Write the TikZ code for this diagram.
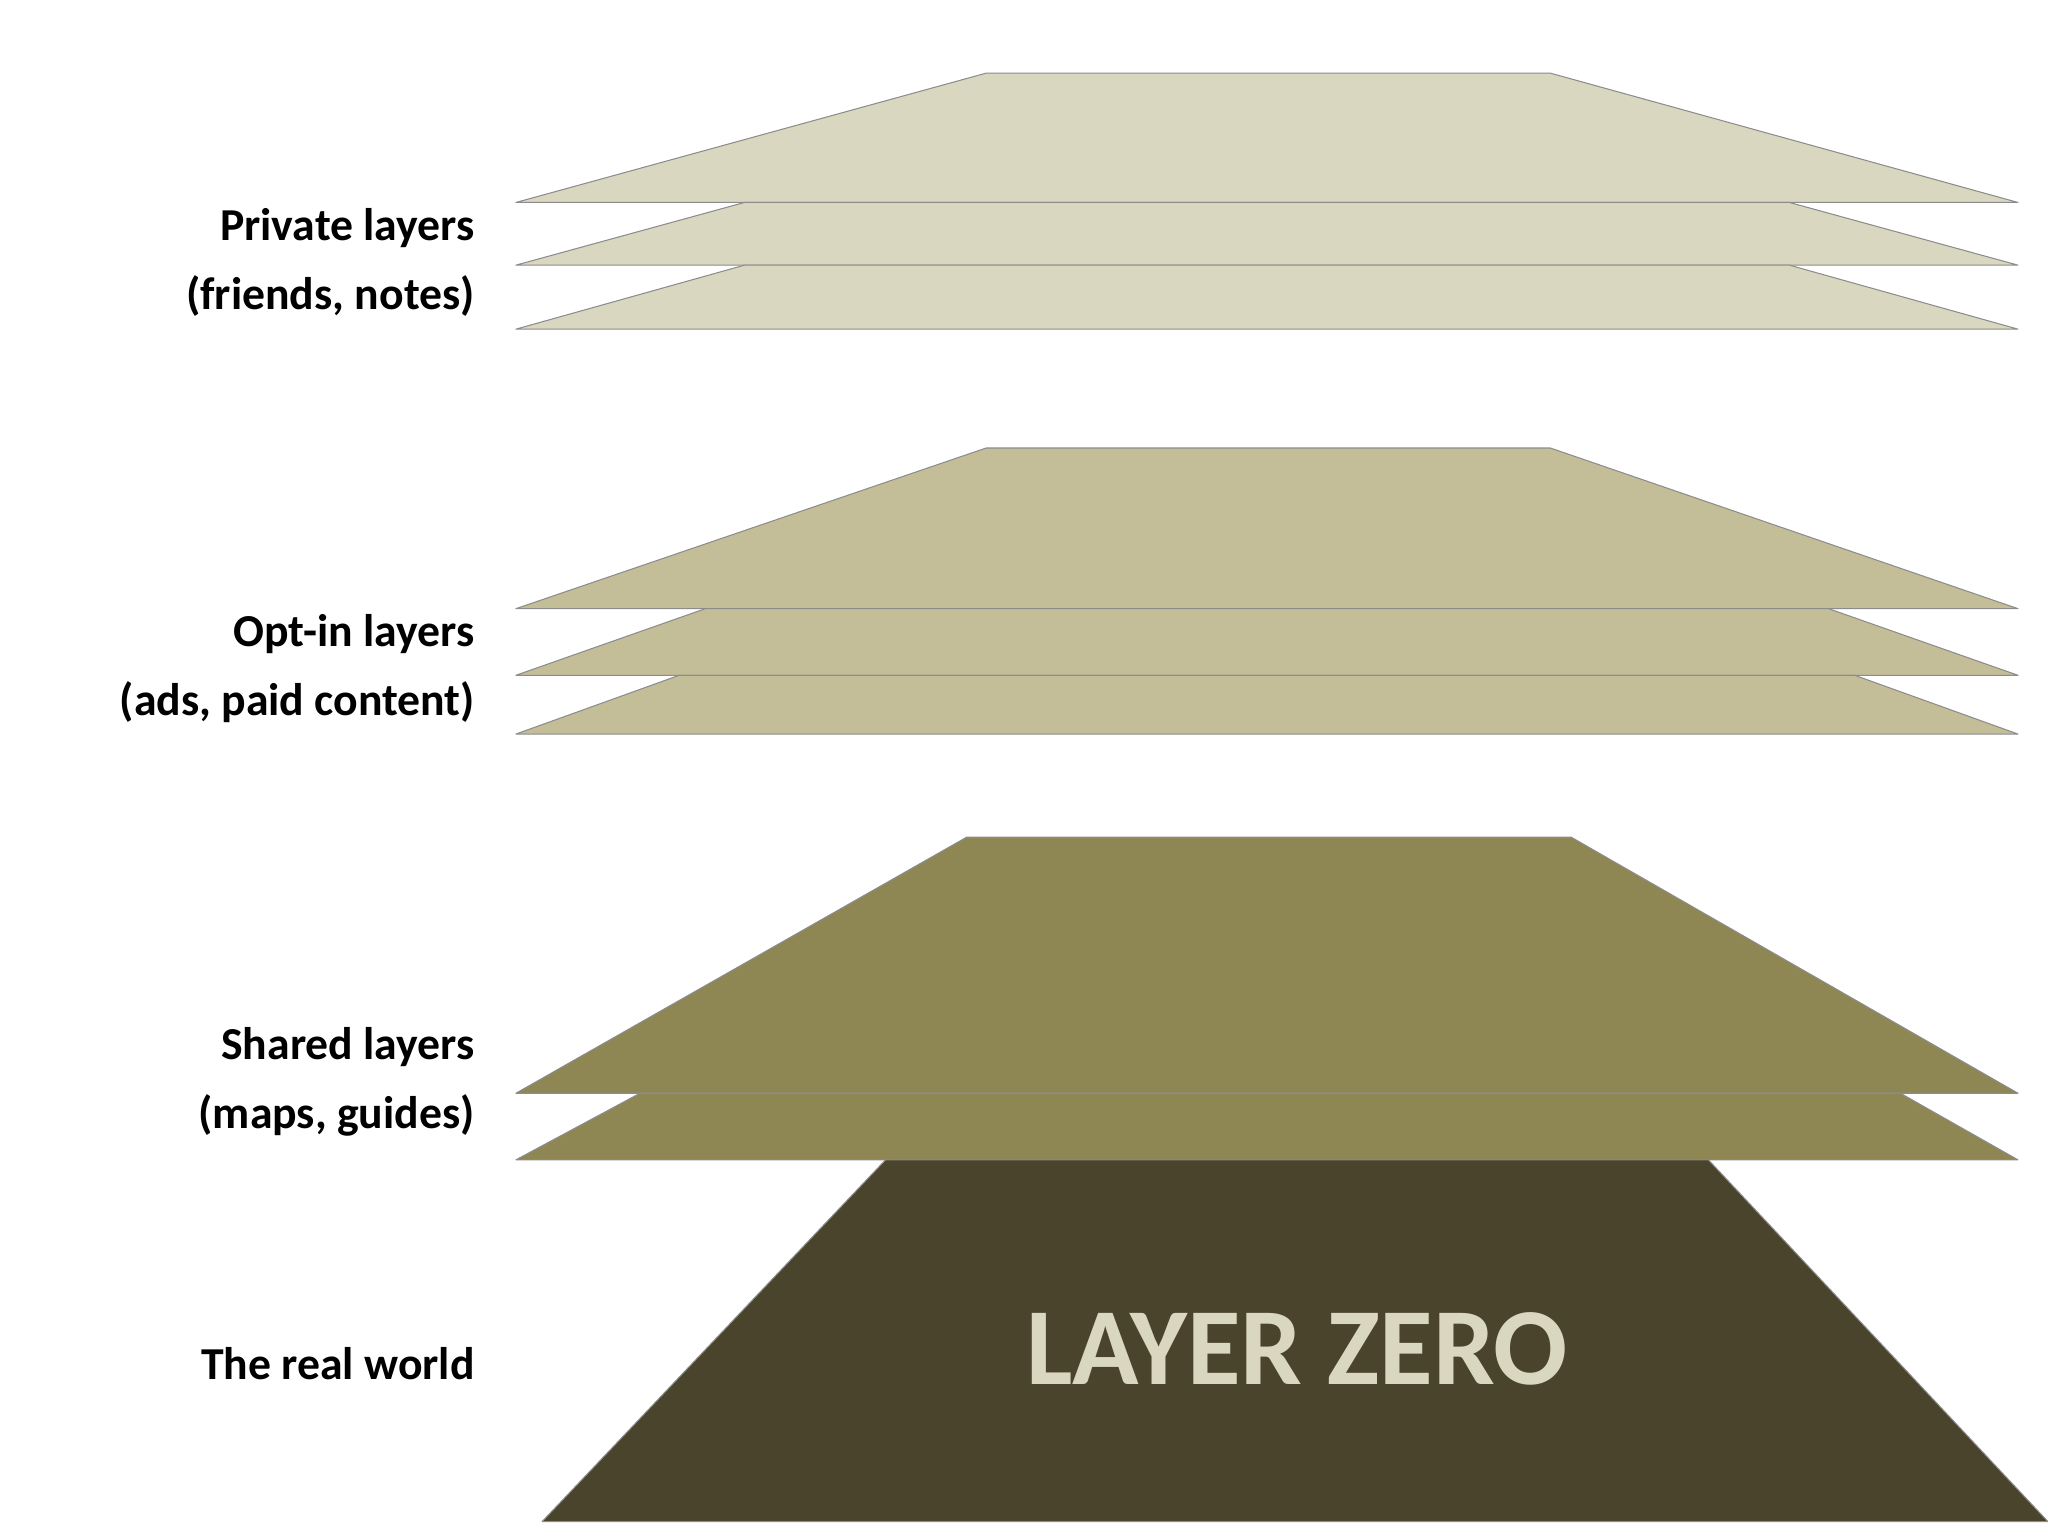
\documentclass[tikz,border=0pt]{standalone}
\usepackage{fontspec}
\setmainfont{Carlito}
\begin{document}
\begin{tikzpicture}[x=1pt,y=-1pt,
  lay/.style={draw=black!45,line width=0.8pt,line join=round},
  lab/.style={anchor=east,align=right,font=\bfseries\fontsize{35}{53}\selectfont}]
\useasboundingbox (0,0) rectangle (1568,1176);
\definecolor{cA}{HTML}{DAD7C0}
\definecolor{cB}{HTML}{C3BD98}
\definecolor{cC}{HTML}{8E8753}
\definecolor{cD}{HTML}{4A442C}
% private
\draw[lay,fill=cA] (755,56) -- (1187,56) -- (1545,155) -- (395,155) -- cycle;
\draw[lay,fill=cA] (570,155) -- (1370,155) -- (1545,203) -- (395,203) -- cycle;
\draw[lay,fill=cA] (570,203) -- (1370,203) -- (1545,252) -- (395,252) -- cycle;
% opt-in
\draw[lay,fill=cB] (755,343) -- (1187,343) -- (1545,466) -- (395,466) -- cycle;
\draw[lay,fill=cB] (540,466) -- (1400,466) -- (1545,517) -- (395,517) -- cycle;
\draw[lay,fill=cB] (520,517) -- (1420,517) -- (1545,562) -- (395,562) -- cycle;
% shared
\draw[lay,fill=cC] (740,641) -- (1203,641) -- (1545,837) -- (395,837) -- cycle;
\draw[lay,fill=cC] (490,837) -- (1455,837) -- (1545,888) -- (395,888) -- cycle;
% zero
\draw[lay,fill=cD] (678,888) -- (1308,888) -- (1568,1165) -- (415,1165) -- cycle;
\node[font=\bfseries\fontsize{84}{90}\selectfont,text=cA] (zero) at (993,1033) {LAYER ZERO};
\node[lab] (p) at (367,201) {Private layers\\(friends, notes)};
\node[lab] (o) at (367,512) {Opt-in layers\\(ads, paid content)};
\node[lab] (s) at (367,828) {Shared layers\\(maps, guides)};
\node[lab] (r) at (367,1044) {The real world};
\end{tikzpicture}
\end{document}
